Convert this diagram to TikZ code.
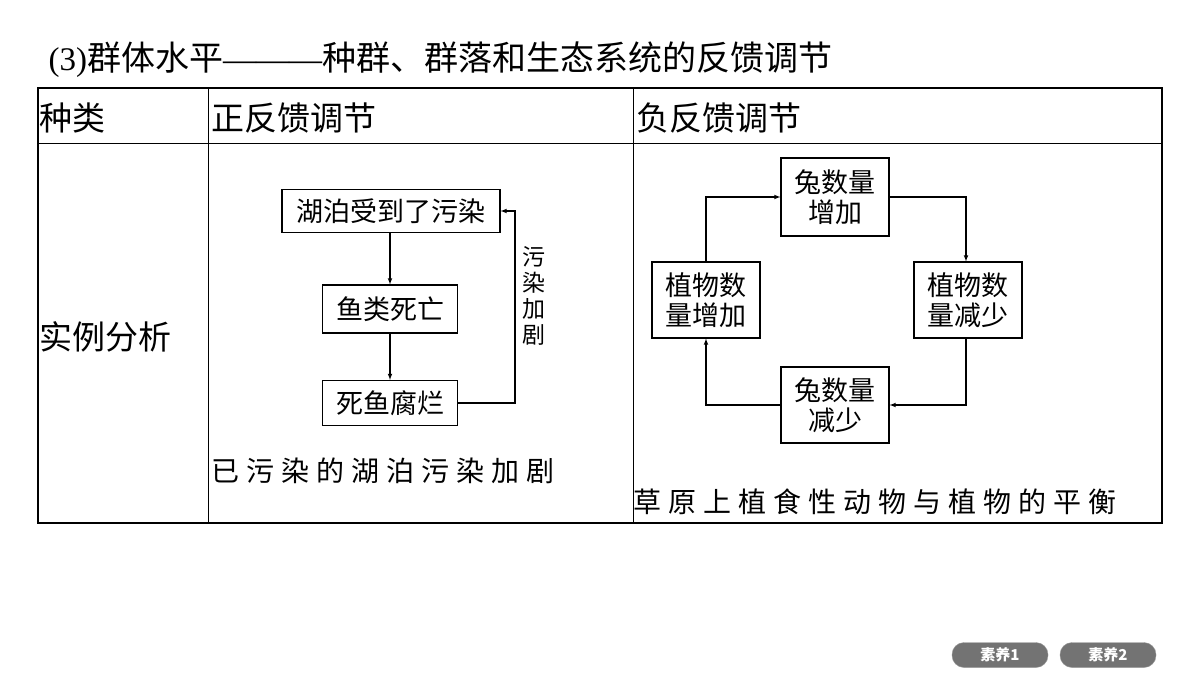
\documentclass[tikz,border=0pt]{standalone}
\usepackage{fontspec}
\setmainfont{Liberation Serif}
\newfontfamily\cjk{Noto Sans CJK SC}
\usetikzlibrary{positioning}
\tikzset{
  box/.style={draw,line width=1.2pt,inner sep=0pt,align=center,font=\cjk\fontsize{27}{30}\selectfont},
  arr/.style={-latex,line width=1.1pt},
  btn/.style={fill=black!55,draw=black!40,rounded corners=12pt,minimum width=96pt,minimum height=25pt,text=white,font=\cjk\bfseries\fontsize{15}{15}\selectfont}
}
\begin{document}
\begin{tikzpicture}[x=1pt,y=-1pt]
  \useasboundingbox (0,0) rectangle (1200,675);
  \node[anchor=west,font=\fontsize{33}{33}\selectfont] (title) at (45,60) {(3){\cjk\fontsize{34}{34}\selectfont 群体水平}———{\cjk\fontsize{34}{34}\selectfont 种群、群落和生态系统的反馈调节}};
  % table
  \draw[line width=2pt] (38,88) rectangle (1162,523);
  \draw[line width=1pt] (38,143) -- (1162,143);
  \draw[line width=1pt] (208,88) -- (208,523);
  \draw[line width=1pt] (633,88) -- (633,523);
  \node[anchor=west,font=\cjk\fontsize{33}{33}\selectfont] (h1) at (36,118) {种类};
  \node[anchor=west,font=\cjk\fontsize{33}{33}\selectfont] (h2) at (208,118) {正反馈调节};
  \node[anchor=west,font=\cjk\fontsize{33}{33}\selectfont] (h3) at (633,118) {负反馈调节};
  \node[anchor=west,font=\cjk\fontsize{33}{33}\selectfont] (h4) at (36,337) {实例分析};
  % positive feedback
  \node[box,minimum width=218pt,minimum height=43pt] (lake) at (391,211) {湖泊受到了污染};
  \node[box,minimum width=135pt,minimum height=48pt] (fish) at (390,309) {鱼类死亡};
  \node[box,minimum width=135pt,minimum height=45pt] (rot) at (390,403) {死鱼腐烂};
  \draw[arr] (lake.south -| fish) -- (fish);
  \draw[arr] (fish) -- (rot);
  \coordinate (c1) at (515,403);
  \coordinate (c2) at (515,211);
  \draw[arr] (rot.east) -- (c1) -- (c2) -- (lake.east);
  \node[align=center,font=\cjk\fontsize{23}{26}\selectfont] (more) at (534,296) {污\\染\\加\\剧};
  \node[anchor=west,font=\cjk\fontsize{28}{28}\selectfont] (cap1) at (208,471) {已\kern7pt 污\kern7pt 染\kern7pt 的\kern7pt 湖\kern7pt 泊\kern7pt 污\kern7pt 染\kern7pt 加\kern7pt 剧};
  % negative feedback
  \node[box,minimum width=108pt,minimum height=78pt] (rabup) at (835,197) {兔数量\\增加};
  \node[box,minimum width=108pt,minimum height=76pt] (plantdn) at (968,300) {植物数\\量减少};
  \node[box,minimum width=108pt,minimum height=76pt] (rabdn) at (835,405) {兔数量\\减少};
  \node[box,minimum width=108pt,minimum height=76pt] (plantup) at (706,300) {植物数\\量增加};
  \coordinate (k1) at (966,197);
  \coordinate (k2) at (966,405);
  \coordinate (k3) at (706,405);
  \coordinate (k4) at (706,197);
  \draw[arr] (rabup.east) -- (k1) -- (k1 |- plantdn.north);
  \draw[arr] (k1 |- plantdn.south) -- (k2) -- (rabdn.east);
  \draw[arr] (rabdn.west) -- (k3) -- (plantup.south);
  \draw[arr] (plantup.north) -- (k4) -- (rabup.west);
  \node[anchor=west,font=\cjk\fontsize{28}{28}\selectfont] (cap2) at (630,502) {草\kern7pt 原\kern7pt 上\kern7pt 植\kern7pt 食\kern7pt 性\kern7pt 动\kern7pt 物\kern7pt 与\kern7pt 植\kern7pt 物\kern7pt 的\kern7pt 平\kern7pt 衡};
  % buttons
  \node[btn] (b1) at (1000,655) {素养1};
  \node[btn] (b2) at (1108,655) {素养2};
\end{tikzpicture}
\end{document}
